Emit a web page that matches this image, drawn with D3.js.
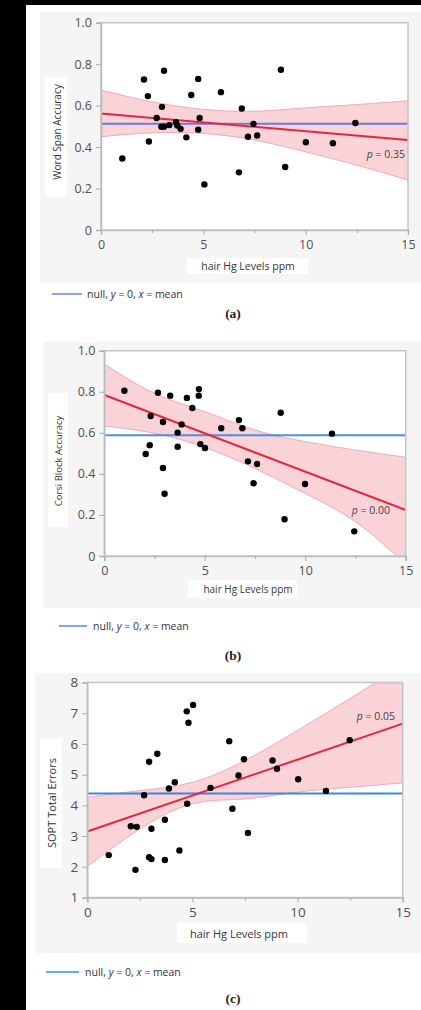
<!DOCTYPE html>
<html>
<head>
<meta charset="utf-8">
<script src="https://cdn.jsdelivr.net/npm/d3@7"></script>
<style>
  html, body { margin: 0; padding: 0; background: #000; }
  svg { display: block; }
</style>
</head>
<body>
<svg id="chart" width="421" height="1010"></svg>
<script>
// ---- Panel (a): word span accuracy vs hair Hg ----
const hgA = [1.04, 2.10, 3.08, 2.29, 2.34, 2.98, 2.72, 2.95, 3.08, 3.34, 3.66, 3.73, 3.89, 4.17, 4.41,
             4.75, 4.82, 4.75, 5.05, 5.86, 6.88, 6.74, 7.18, 7.45, 7.63, 8.79, 9.00, 10.01, 11.33, 12.43];
const wordSpan = [0.345, 0.726, 0.768, 0.646, 0.427, 0.594, 0.540, 0.498, 0.498, 0.506, 0.520, 0.504, 0.488, 0.447, 0.651,
                  0.729, 0.540, 0.484, 0.220, 0.665, 0.586, 0.278, 0.450, 0.512, 0.456, 0.773, 0.304, 0.423, 0.419, 0.516];
const fitA = [0.562, 0.434];          // fitted line at x = 0 and x = 15
const bandUpperA = [0.675, 0.618, 0.582, 0.573, 0.589, 0.605, 0.623];
const bandLowerA = [0.450, 0.469, 0.466, 0.434, 0.377, 0.313, 0.241];
const meanA = 0.512;
const pA = "0.35";

// ---- Panel (b): Corsi block accuracy vs hair Hg ----
const hgB = [1.00, 2.06, 2.26, 2.31, 2.67, 2.92, 2.92, 3.00, 3.28, 3.65, 3.65, 3.85, 4.11, 4.38, 4.71,
             4.70, 4.78, 5.01, 5.82, 6.70, 6.87, 7.15, 7.43, 7.60, 8.78, 8.97, 9.99, 11.33, 12.44];
const corsi = [0.805, 0.497, 0.540, 0.682, 0.795, 0.653, 0.429, 0.303, 0.781, 0.601, 0.532, 0.641, 0.770, 0.721, 0.813,
               0.781, 0.545, 0.526, 0.622, 0.662, 0.622, 0.461, 0.354, 0.448, 0.698, 0.179, 0.351, 0.596, 0.120];
const fitB = [0.784, 0.224];
const bandUpperB = [0.935, 0.792, 0.703, 0.614, 0.557, 0.516, 0.481];
const bandLowerB = [0.633, 0.598, 0.529, 0.427, 0.305, 0.167, -0.040];
const meanB = 0.588;
const pB = "0.00";

// ---- Panel (c): SOPT total errors vs hair Hg ----
const hgC = [1.02, 2.07, 2.35, 2.29, 2.70, 2.94, 2.94, 3.05, 3.05, 3.33, 3.69, 3.69, 3.88, 4.16, 4.38,
             4.73, 4.81, 4.75, 5.03, 5.86, 6.75, 6.90, 7.19, 7.45, 7.64, 8.81, 9.02, 10.03, 11.35, 12.48];
const sopt = [2.38, 3.32, 3.30, 1.90, 4.33, 5.42, 2.31, 3.24, 2.25, 5.68, 3.53, 2.22, 4.55, 4.75, 2.53,
              7.06, 6.69, 4.05, 7.27, 4.57, 6.09, 3.89, 4.97, 5.50, 3.10, 5.46, 5.19, 4.85, 4.47, 6.12];
const fitC = [3.15, 6.66];
const bandUpperC = [4.26, 4.48, 4.75, 5.46, 6.44, 7.48, 8.55];
const bandLowerC = [2.01, 3.23, 4.05, 4.21, 4.43, 4.59, 4.73];
const meanC = 4.39;
const pC = "0.05";

// shared
const bandX = [0, 2.5, 5, 7.5, 10, 12.5, 15];
const fitX = [0, 15];
const xTicks = [0, 5, 10, 15];
const xMinorTicks = [2.5, 7.5, 12.5];
const xTitle = "hair Hg Levels ppm";
const yTicksAcc = [0, 0.2, 0.4, 0.6, 0.8, 1.0];
const yTicksErr = [1, 2, 3, 4, 5, 6, 7, 8];

const svg = d3.select("#chart");
const FONT = "'Open Sans', 'Noto Sans', sans-serif";

// page: black strips at top and left, white sheet
svg.append("rect").attr("x", 0).attr("y", 0).attr("width", 421).attr("height", 1010).attr("fill", "#000");
svg.append("rect").attr("x", 26).attr("y", 5).attr("width", 395).attr("height", 1005).attr("fill", "#fff");

function drawPanel(cfg) {
  const g = svg.append("g");
  // light grey panel backdrop
  g.append("rect").attr("x", cfg.bg[0]).attr("y", cfg.bg[1])
    .attr("width", cfg.bg[2] - cfg.bg[0]).attr("height", cfg.bg[3] - cfg.bg[1])
    .attr("fill", "#f5f5f5");

  const x = d3.scaleLinear().domain([0, 15]).range([cfg.left, cfg.right]);
  const y = d3.scaleLinear().domain(cfg.yDomain).range([cfg.bottom, cfg.top]);

  // plot area
  g.append("rect").attr("x", cfg.left).attr("y", cfg.top)
    .attr("width", cfg.right - cfg.left).attr("height", cfg.bottom - cfg.top)
    .attr("fill", "#fff");

  const clipId = "clip-" + cfg.id;
  g.append("clipPath").attr("id", clipId).append("rect")
    .attr("x", cfg.left).attr("y", cfg.top)
    .attr("width", cfg.right - cfg.left).attr("height", cfg.bottom - cfg.top);
  const inner = g.append("g").attr("clip-path", `url(#${clipId})`);

  // confidence band
  const bandData = bandX.map((v, i) => ({ x: v, lo: cfg.lower[i], hi: cfg.upper[i] }));
  inner.append("path").datum(bandData)
    .attr("d", d3.area().x(d => x(d.x)).y0(d => y(d.lo)).y1(d => y(d.hi)).curve(d3.curveNatural))
    .attr("fill", "#f9d3d8");
  ["hi", "lo"].forEach(k => {
    inner.append("path").datum(bandData)
      .attr("d", d3.line().x(d => x(d.x)).y(d => y(d[k])).curve(d3.curveNatural))
      .attr("fill", "none").attr("stroke", "#eeaab2").attr("stroke-width", 1);
  });

  // null line at the mean
  inner.append("line").attr("x1", x(0)).attr("x2", x(15))
    .attr("y1", y(cfg.mean)).attr("y2", y(cfg.mean))
    .attr("stroke", cfg.blue).attr("stroke-width", 2);

  // fitted line
  inner.append("path").datum(fitX.map((v, i) => [v, cfg.fit[i]]))
    .attr("d", d3.line().x(d => x(d[0])).y(d => y(d[1])))
    .attr("stroke", "#e5263e").attr("stroke-width", 2).attr("fill", "none");

  // points
  inner.selectAll("circle").data(cfg.xs.map((v, i) => [v, cfg.ys[i]]))
    .join("circle").attr("cx", d => x(d[0])).attr("cy", d => y(d[1]))
    .attr("r", 3.2).attr("fill", "#000");

  // frame
  g.append("rect").attr("x", cfg.left).attr("y", cfg.top)
    .attr("width", cfg.right - cfg.left).attr("height", cfg.bottom - cfg.top)
    .attr("fill", "none").attr("stroke", "#c4c4c4").attr("stroke-width", 1.5);

  // axes
  const xAxis = g.append("g").attr("transform", `translate(0,${cfg.bottom})`)
    .call(d3.axisBottom(x).tickValues(xTicks).tickSize(5).tickPadding(5).tickFormat(d3.format("d")));
  g.append("g").attr("transform", `translate(0,${cfg.bottom})`)
    .call(d3.axisBottom(x).tickValues(xMinorTicks).tickSize(3).tickFormat(""))
    .call(a => a.select(".domain").remove());
  const yAxis = g.append("g").attr("transform", `translate(${cfg.left},0)`)
    .call(d3.axisLeft(y).tickValues(cfg.yTicks).tickSize(5).tickPadding(4).tickFormat(cfg.yFormat));
  [xAxis, yAxis].forEach(a => {
    a.select(".domain").attr("stroke", "#bdbdbd").attr("stroke-width", 1.5);
    a.selectAll(".tick text").attr("fill", "#505050").attr("font-family", FONT)
      .attr("font-size", cfg.tickSize);
  });
  g.selectAll(".tick line").attr("stroke", "#aaa");

  // p value
  g.append("text").attr("x", cfg.pPos[0]).attr("y", cfg.pPos[1]).attr("text-anchor", "end")
    .attr("font-family", FONT).attr("font-size", 10.5).attr("fill", "#444")
    .call(t => {
      t.append("tspan").attr("font-style", "italic").text("p");
      t.append("tspan").text(" = " + cfg.p);
    });

  // x title with white backing
  g.append("rect").attr("x", cfg.xTitleBox[0]).attr("y", cfg.xTitleBox[1])
    .attr("width", cfg.xTitleBox[2] - cfg.xTitleBox[0]).attr("height", cfg.xTitleBox[3] - cfg.xTitleBox[1])
    .attr("fill", "#fff");
  g.append("text").attr("x", cfg.xTitlePos[0]).attr("y", cfg.xTitlePos[1])
    .attr("text-anchor", "middle").attr("dominant-baseline", "central")
    .attr("font-family", FONT).attr("font-size", cfg.xTitleSize).attr("fill", "#333").text(xTitle);

  // y title with white backing
  g.append("rect").attr("x", cfg.yTitleBox[0]).attr("y", cfg.yTitleBox[1])
    .attr("width", cfg.yTitleBox[2] - cfg.yTitleBox[0]).attr("height", cfg.yTitleBox[3] - cfg.yTitleBox[1])
    .attr("fill", "#fff");
  g.append("text")
    .attr("transform", `translate(${cfg.yTitlePos[0]},${cfg.yTitlePos[1]}) rotate(-90)`)
    .attr("text-anchor", "middle").attr("dominant-baseline", "central")
    .attr("font-family", FONT).attr("font-size", cfg.yTitleSize).attr("fill", "#333").text(cfg.yTitle);

  // legend
  g.append("line").attr("x1", cfg.legend[0]).attr("x2", cfg.legend[1])
    .attr("y1", cfg.legend[2]).attr("y2", cfg.legend[2])
    .attr("stroke", cfg.legendBlue).attr("stroke-width", 1.5);
  g.append("text").attr("x", cfg.legend[3]).attr("y", cfg.legend[2])
    .attr("dominant-baseline", "central")
    .attr("font-family", FONT).attr("font-size", 10.5).attr("fill", "#333")
    .call(t => {
      t.append("tspan").text("null, ");
      t.append("tspan").attr("font-style", "italic").text("y");
      t.append("tspan").text(" = 0, ");
      t.append("tspan").attr("font-style", "italic").text("x");
      t.append("tspan").text(" = mean");
    });

  // panel tag
  g.append("text").attr("x", 233).attr("y", cfg.tagY).attr("text-anchor", "middle")
    .attr("dominant-baseline", "central")
    .attr("font-family", "'Liberation Serif', 'DejaVu Serif', serif").attr("font-weight", "bold")
    .attr("font-size", 13.5).attr("fill", "#222").text(cfg.tag);
}

const fmtAcc = d => d === 0 ? "0" : d3.format(".1f")(d);

drawPanel({
  id: "a", xs: hgA, ys: wordSpan, fit: fitA, upper: bandUpperA, lower: bandLowerA, mean: meanA, p: pA,
  yDomain: [0, 1], yTicks: yTicksAcc, yFormat: fmtAcc, yTitle: "Word Span Accuracy",
  bg: [40, 12, 421, 283], left: 101, right: 408, top: 22.7, bottom: 230,
  blue: "#6f78e0", legendBlue: "#6a86d8", tickSize: 12.5,
  pPos: [405, 158], xTitleBox: [187, 258, 308, 274], xTitlePos: [248, 266], xTitleSize: 10.5,
  yTitleBox: [45, 77, 67, 197], yTitlePos: [57, 132], yTitleSize: 10,
  legend: [52, 82, 294, 87], tag: "(a)", tagY: 313
});

drawPanel({
  id: "b", xs: hgB, ys: corsi, fit: fitB, upper: bandUpperB, lower: bandLowerB, mean: meanB, p: pB,
  yDomain: [0, 1], yTicks: yTicksAcc, yFormat: fmtAcc, yTitle: "Corsi Block Accuracy",
  bg: [43, 342, 421, 608], left: 104.3, right: 405.7, top: 350.7, bottom: 556,
  blue: "#4a90e2", legendBlue: "#4a90e2", tickSize: 12.5,
  pPos: [390, 514], xTitleBox: [188, 580, 297, 598], xTitlePos: [248, 589], xTitleSize: 10,
  yTitleBox: [48, 393, 68, 527], yTitlePos: [58, 461], yTitleSize: 9.5,
  legend: [59, 87, 626, 93], tag: "(b)", tagY: 655
});

drawPanel({
  id: "c", xs: hgC, ys: sopt, fit: fitC, upper: bandUpperC, lower: bandLowerC, mean: meanC, p: pC,
  yDomain: [1, 8], yTicks: yTicksErr, yFormat: d3.format("d"), yTitle: "SOPT Total Errors",
  bg: [35, 673, 421, 953], left: 87.3, right: 402.7, top: 682.5, bottom: 897.5,
  blue: "#3f86e0", legendBlue: "#3f86e0", tickSize: 13.5,
  pPos: [395, 720], xTitleBox: [177, 923, 307, 943], xTitlePos: [239, 933], xTitleSize: 11,
  yTitleBox: [40, 738, 62, 868], yTitlePos: [51.5, 803], yTitleSize: 11,
  legend: [46, 79, 972, 85], tag: "(c)", tagY: 998
});
</script>
</body>
</html>
